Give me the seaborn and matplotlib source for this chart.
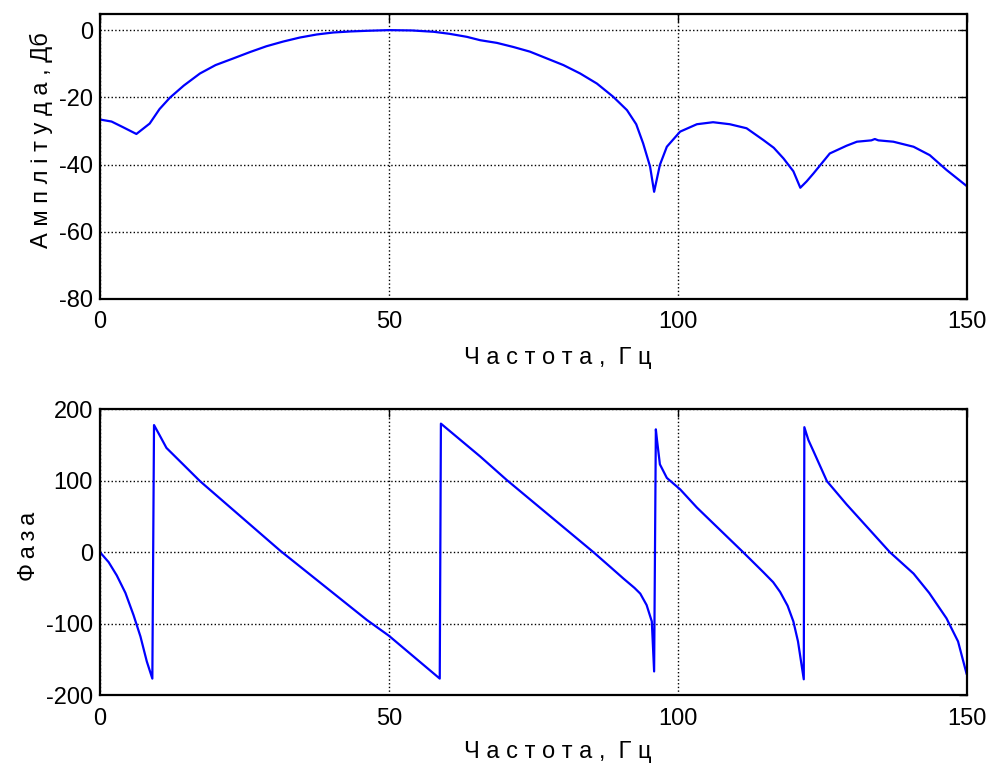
import matplotlib
matplotlib.use("Agg")
import matplotlib.pyplot as plt
import pandas as pd
import seaborn as sns

# amplitude response
amp_freq = [0, 2, 4, 6.3, 8.6, 10.3, 12.1, 14.5, 17.3, 20, 23.1, 26, 28.8, 31.7,
            34.6, 37.5, 40.4, 43.3, 46.2, 50, 54, 57.8, 60.5, 63.5, 65.8, 68.7,
            71.5, 74.4, 77.3, 80.2, 83.1, 86, 88.8, 91.2, 92.8, 94.0, 95.2, 95.9,
            96.9, 98.1, 100.4, 103.3, 106.1, 109, 111.9, 114.8, 116.6, 118.3,
            120, 121.2, 122.3, 123.5, 126.3, 129.2, 131, 133.5, 134.1, 134.7,
            137.3, 140.8, 143.6, 146.5, 150]
amp_db = [-26.6, -27.2, -28.9, -30.9, -27.8, -23.5, -20.1, -16.5, -12.9, -10.4,
          -8.4, -6.5, -4.8, -3.4, -2.2, -1.3, -0.7, -0.4, -0.2, 0, -0.1, -0.5,
          -1.1, -2.0, -3.0, -3.8, -5.0, -6.4, -8.4, -10.4, -12.9, -15.9, -19.8,
          -23.8, -28.0, -33.7, -40.6, -48.1, -40.1, -34.7, -30.2, -28.0, -27.4,
          -28.0, -29.2, -32.7, -35.0, -38.2, -42.0, -46.9, -45.0, -42.6, -36.7,
          -34.4, -33.2, -32.8, -32.4, -32.8, -33.2, -34.7, -37.2, -41.6, -46.4]

# phase response
ph_freq = [0, 1.5, 2.9, 4.4, 5.8, 7.0, 8.1, 9.06, 9.35, 10.3, 11.5, 14.5, 17.3,
           31.2, 46.2, 50, 58.8, 59.0, 65.8, 70.4, 85.4, 88.5, 90.6, 92.5, 93.5,
           94.6, 95.5, 95.9, 96.2, 96.4, 96.9, 98.1, 100.4, 103.3, 111.3, 114.8,
           116.5, 117.7, 119, 120, 120.8, 121.4, 121.8, 121.9, 122.6, 123.5,
           125.8, 129.2, 136.7, 140.8, 143.5, 146.5, 148.5, 150]
ph_deg = [0, -14, -32.5, -57, -88, -118, -153, -177, 178, 164, 146, 122, 99.5,
          2, -95, -117, -177, 180, 134, 101, 0, -22, -37, -50, -58, -74, -97,
          -167, 172, 157, 123, 104, 88, 62.5, 0, -28, -42, -55.6, -75, -97,
          -125, -157, -178, 175, 157, 141, 99.5, 67, 0, -30, -57, -92.6, -125,
          -171]

sns.set_theme(style="white")
plt.rcParams["font.family"] = ["Liberation Sans", "DejaVu Sans"]
plt.rcParams["axes.unicode_minus"] = False
plt.rcParams["text.color"] = "black"
plt.rcParams["axes.labelcolor"] = "black"
plt.rcParams["xtick.color"] = "black"
plt.rcParams["ytick.color"] = "black"

LABEL_SIZE = 17
TICK_SIZE = 17
THIN = "\u2009"


def style_axes(ax, ylim, yticks):
    ax.set_xlim(0, 150)
    ax.set_ylim(*ylim)
    ax.set_xticks([0, 50, 100, 150])
    ax.set_yticks(yticks)
    ax.grid(True, linestyle=":", color="black", linewidth=1.0)
    for side in ax.spines.values():
        side.set_color("black")
        side.set_linewidth(1.6)
    ax.tick_params(axis="both", which="both", direction="in", length=6,
                   width=1.0, color="black", labelcolor="black",
                   labelsize=TICK_SIZE, top=True, right=True)
    ax.tick_params(axis="x", pad=9)
    ax.tick_params(axis="y", pad=5)


fig = plt.figure(figsize=(9.91, 7.69), dpi=100)
ax1 = fig.add_axes([0.1009, 0.6112, 0.8746, 0.3706])
ax2 = fig.add_axes([0.1009, 0.0962, 0.8746, 0.3715])

amp_df = pd.DataFrame({"freq": amp_freq, "db": amp_db})
ph_df = pd.DataFrame({"freq": ph_freq, "deg": ph_deg})

sns.lineplot(data=amp_df, x="freq", y="db", ax=ax1, color="#0000FF",
             linewidth=1.6, sort=False, estimator=None)
sns.lineplot(data=ph_df, x="freq", y="deg", ax=ax2, color="#0000FF",
             linewidth=1.6, sort=False, estimator=None)

style_axes(ax1, (-80, 4.8), [-80, -60, -40, -20, 0])
style_axes(ax2, (-200, 200), [-200, -100, 0, 100, 200])

ax1.set_xlabel("Ч а с т о т а ,  Г ц", fontsize=LABEL_SIZE, labelpad=10)
ax1.set_ylabel("А м п л і т у д а , Дб", fontsize=LABEL_SIZE, labelpad=4)
ax2.set_xlabel("Ч а с т о т а ,  Г ц", fontsize=LABEL_SIZE, labelpad=8)
ax2.set_ylabel(THIN.join("Фаза"), fontsize=LABEL_SIZE, labelpad=4)

ax1.xaxis.label.set_x(0.528)
ax2.xaxis.label.set_x(0.528)
ax1.yaxis.label.set_y(0.558)
ax2.yaxis.label.set_y(0.522)

fig.savefig("out.png", dpi=100, facecolor="white")
